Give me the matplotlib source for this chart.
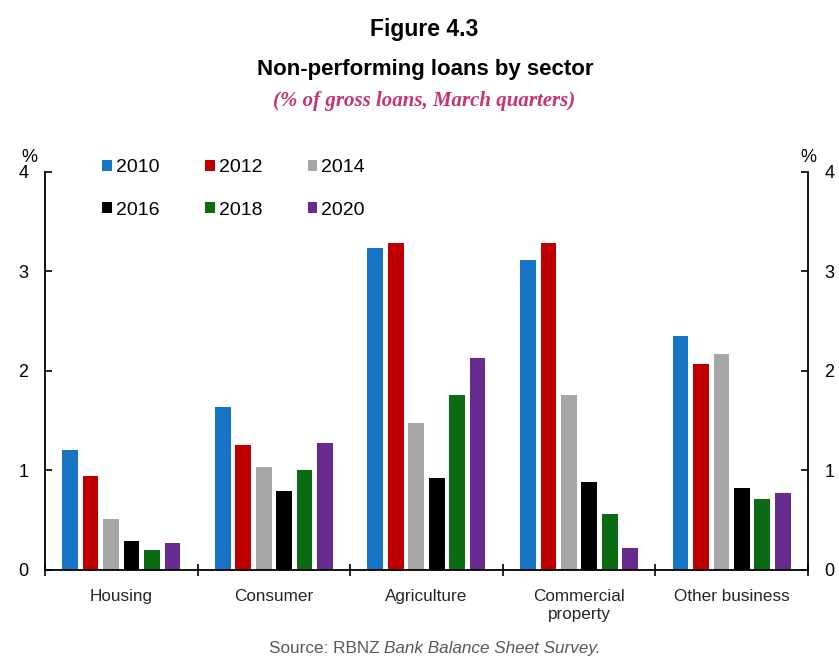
import matplotlib.pyplot as plt
import numpy as np

# Non-performing loans by sector, % of gross loans, March quarters
sectors = ['Housing', 'Consumer', 'Agriculture', 'Commercial\nproperty', 'Other business']
years = ['2010', '2012', '2014', '2016', '2018', '2020']
npl_2010 = [1.21, 1.64, 3.23, 3.11, 2.35]
npl_2012 = [0.94, 1.26, 3.29, 3.29, 2.07]
npl_2014 = [0.51, 1.03, 1.48, 1.76, 2.17]
npl_2016 = [0.29, 0.79, 0.92, 0.88, 0.82]
npl_2018 = [0.20, 1.00, 1.76, 0.56, 0.71]
npl_2020 = [0.27, 1.28, 2.13, 0.22, 0.77]

series = [npl_2010, npl_2012, npl_2014, npl_2016, npl_2018, npl_2020]
colours = ['#1874c4', '#c00000', '#a6a6a6', '#000000', '#0b6b12', '#672a8f']

plt.rcParams['font.family'] = ['Liberation Sans', 'DejaVu Sans']

fig = plt.figure(figsize=(8.39, 6.72), dpi=100)
ax = fig.add_axes([0.0536, 0.1518, 0.9094, 0.5925])

x = np.arange(len(sectors))
step = 0.134
width = 0.103
bars = []
for i, (vals, col, yr) in enumerate(zip(series, colours, years)):
    bars.append(ax.bar(x + (i - 2.5) * step, vals, width, color=col, label=yr))

ax.set_xlim(-0.5, len(sectors) - 0.5)
ax.set_ylim(0, 4)

# category labels centred, tick marks on the group boundaries
ax.set_xticks(x)
ax.set_xticklabels(sectors, fontsize=12.3, color='#262626')
ax.tick_params(axis='x', which='major', length=0, pad=14)
ax.set_xticks(np.arange(-0.5, len(sectors)), minor=True)
ax.tick_params(axis='x', which='minor', length=8, direction='inout', width=1.2)

ax.set_yticks([0, 1, 2, 3, 4])
ax.tick_params(axis='y', labelsize=13, length=5, width=1.2, direction='in',
               left=True, right=True, labelleft=True, labelright=True, pad=12)
for side in ['left', 'right', 'bottom']:
    ax.spines[side].set_linewidth(1.3)
ax.spines['top'].set_visible(False)

ax.text(-0.02, 1.015, '%', transform=ax.transAxes, fontsize=13, ha='center', va='bottom')
ax.text(1.0, 1.015, '%', transform=ax.transAxes, fontsize=13, ha='center', va='bottom')

# legend filled column by column, so order the handles to read across rows
order = [0, 3, 1, 4, 2, 5]
ax.legend([bars[k] for k in order], [years[k] for k in order],
          ncol=3, loc='upper left', bbox_to_anchor=(0.052, 1.075), frameon=False,
          fontsize=14, handlelength=0.5, handleheight=0.5, handletextpad=0.2,
          columnspacing=2.35, labelspacing=1.3)

# titles
fig.text(0.506, 0.956, 'Figure 4.3', ha='center', va='center', fontsize=16.5, fontweight='bold')
fig.text(0.507, 0.896, 'Non-performing loans by sector', ha='center', va='center',
         fontsize=16, fontweight='bold')
fig.text(0.506, 0.849, '(% of gross loans, March quarters)', ha='center', va='center',
         fontsize=15, fontstyle='italic', fontweight='bold', color='#c8326e',
         family=['Liberation Serif', 'DejaVu Serif'])

# source line, survey name in italics
fig.text(0.452, 0.035, 'Source: RBNZ', ha='right', va='center', fontsize=12.3, color='#595959')
fig.text(0.458, 0.035, 'Bank Balance Sheet Survey.', ha='left', va='center', fontsize=12.3,
         fontstyle='italic', color='#595959')

fig.savefig('out.png', dpi=100)
